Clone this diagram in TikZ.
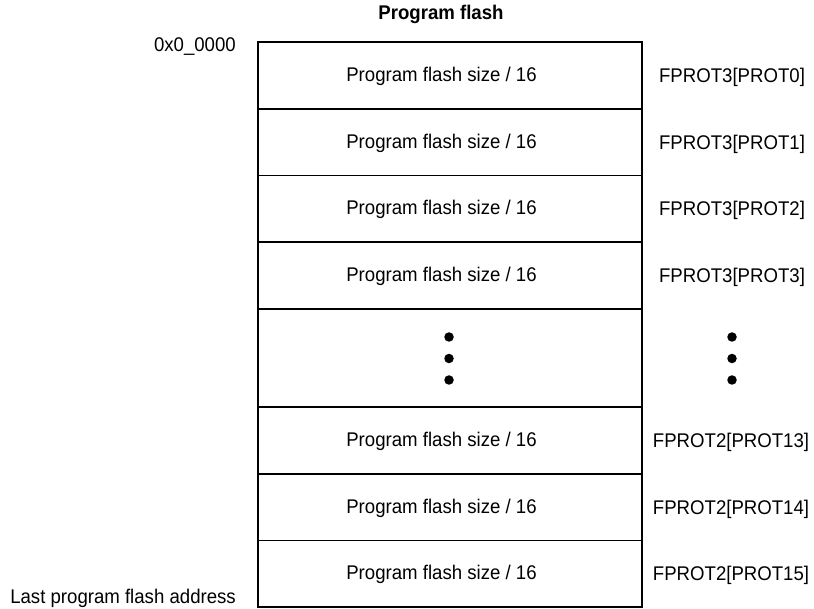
\documentclass[tikz,border=0pt]{standalone}
\usepackage{fontspec}
\setmainfont{Liberation Sans}[FakeStretch=0.94]
\begin{document}
\begin{tikzpicture}[x=1pt,y=-1pt,
  rowbox/.style={draw=black,line width=1.6pt,minimum width=384pt,minimum height=66.75pt,inner sep=0pt},
  gapbox/.style={draw=black,line width=1.6pt,minimum width=384pt,minimum height=98pt,inner sep=0pt},
  lbl/.style={inner sep=0pt,text height=14pt,text depth=0pt,font=\fontsize{19.8}{22}\selectfont},
  dotmark/.style={circle,fill=black,inner sep=0pt,minimum size=9.5pt}]
\useasboundingbox (0,0) rectangle (814,609);
\fill[white] (0,0) rectangle (814,609);
\node[inner sep=0pt,anchor=base,font=\bfseries\fontsize{19.8}{22}\selectfont] (title) at (441,20) {Program flash};
% rows
\node[rowbox] (r0) at (450,75.375) {};
\node[rowbox] (r1) at (450,142.125) {};
\node[rowbox] (r2) at (450,208.875) {};
\node[rowbox] (r3) at (450,275.625) {};
\node[gapbox] (gap) at (450,358) {};
\node[rowbox] (r13) at (450,440.375) {};
\node[rowbox] (r14) at (450,507.125) {};
\node[rowbox] (r15) at (450,573.875) {};
% row texts
\node[lbl] (t0) at ([xshift=-8.5pt,yshift=1pt]r0.center) {Program flash size / 16};
\node[lbl] (t1) at ([xshift=-8.5pt,yshift=1pt]r1.center) {Program flash size / 16};
\node[lbl] (t2) at ([xshift=-8.5pt,yshift=1pt]r2.center) {Program flash size / 16};
\node[lbl] (t3) at ([xshift=-8.5pt,yshift=1pt]r3.center) {Program flash size / 16};
\node[lbl] (t13) at ([xshift=-8.5pt,yshift=1pt]r13.center) {Program flash size / 16};
\node[lbl] (t14) at ([xshift=-8.5pt,yshift=1pt]r14.center) {Program flash size / 16};
\node[lbl] (t15) at ([xshift=-8.5pt,yshift=1pt]r15.center) {Program flash size / 16};
% dots
\node[dotmark] (da) at (449,337) {};
\node[dotmark] (db) at (449,358.5) {};
\node[dotmark] (dc) at (449,380) {};
\node[dotmark] (ea) at (732,337) {};
\node[dotmark] (eb) at (732,358.5) {};
\node[dotmark] (ec) at (732,380) {};
% right labels
\node[lbl] (p0) at (732,75.375) {FPROT3[PROT0]};
\node[lbl] (p1) at (732,142.125) {FPROT3[PROT1]};
\node[lbl] (p2) at (732,208.875) {FPROT3[PROT2]};
\node[lbl] (p3) at (732,275.625) {FPROT3[PROT3]};
\node[lbl] (p13) at (731,440.375) {FPROT2[PROT13]};
\node[lbl] (p14) at (731,507.125) {FPROT2[PROT14]};
\node[lbl] (p15) at (731,573.875) {FPROT2[PROT15]};
% left labels
\node[inner sep=0pt,anchor=base east,font=\fontsize{19.8}{22}\selectfont] (start) at (236,52) {0x0\_0000};
\node[inner sep=0pt,anchor=base east,font=\fontsize{19.8}{22}\selectfont] (last) at (236,603) {Last program flash address};
\end{tikzpicture}
\end{document}
